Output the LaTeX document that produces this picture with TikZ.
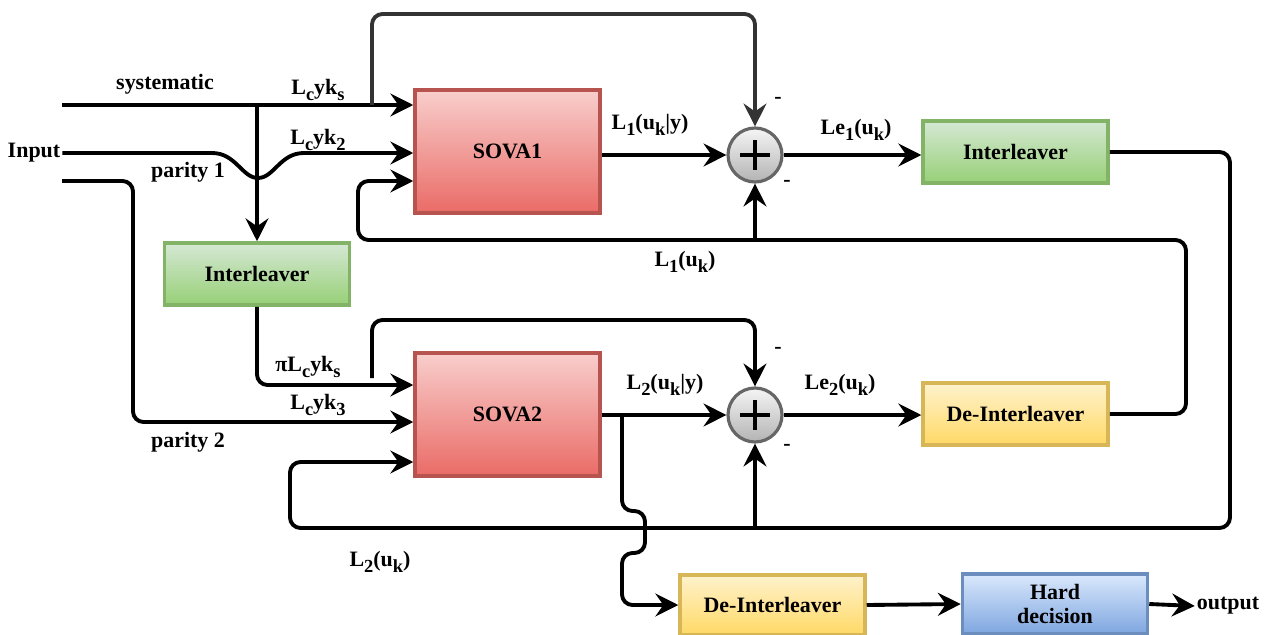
\documentclass[tikz,border=0pt]{standalone}
\usepackage{fontspec}
\setmainfont{Liberation Serif}
\newfontfamily\tnr{Liberation Serif}
\usetikzlibrary{arrows.meta}
\newcommand\lsub[1]{\raisebox{-0.55ex}{\fontsize{10.5}{10.5}\selectfont #1}}
\definecolor{redB}{HTML}{B85450}\definecolor{redT}{HTML}{F8CECC}\definecolor{redL}{HTML}{EA6B66}
\definecolor{grnB}{HTML}{82B366}\definecolor{grnT}{HTML}{D5E8D4}\definecolor{grnL}{HTML}{97D077}
\definecolor{ylwB}{HTML}{D6B656}\definecolor{ylwT}{HTML}{FFF2CC}\definecolor{ylwL}{HTML}{FFD966}
\definecolor{bluB}{HTML}{6C8EBF}\definecolor{bluT}{HTML}{DAE8FC}\definecolor{bluL}{HTML}{7EA6E0}
\definecolor{gryB}{HTML}{666666}\definecolor{gryT}{HTML}{F5F5F5}\definecolor{gryL}{HTML}{B3B3B3}
\definecolor{dline}{HTML}{333333}
\begin{document}
\begin{tikzpicture}[x=0.02cm,y=-0.02cm,
  font=\tnr\fontsize{12.5}{14}\selectfont\bfseries,
  arr/.style={line width=2.2pt,rounded corners=6pt,-{Stealth[length=13pt,width=13pt,inset=4.5pt]}},
  box/.style={draw,line width=2pt,minimum width=3.7cm,align=center,inner sep=1pt},
  sova/.style={box,draw=redB,top color=redT,bottom color=redL,minimum height=2.46cm},
  green/.style={box,draw=grnB,top color=grnT,bottom color=grnL,minimum height=1.24cm},
  yellow/.style={box,draw=ylwB,top color=ylwT,bottom color=ylwL,minimum height=1.24cm},
  blue/.style={box,draw=bluB,top color=bluT,bottom color=bluL,minimum height=1.2cm},
  sum/.style={circle,draw=gryB,line width=1.8pt,top color=gryT,bottom color=gryL,minimum size=1.08cm,inner sep=0pt},
  lbl/.style={inner sep=1pt}]
\fill[white] (0,0) rectangle (1271,635);
\useasboundingbox (0,0) rectangle (1271,635);

% blocks
\node[sova] (sova1) at (507.5,151.5) {SOVA1};
\node[sova] (sova2) at (507.5,414.5) {SOVA2};
\node[green] (il1) at (1015.5,152) {Interleaver};
\node[green] (il2) at (257,274) {Interleaver};
\node[yellow] (dil1) at (1015.5,414) {De-Interleaver};
\node[yellow,minimum height=1.2cm] (dil2) at (772.5,605) {De-Interleaver};
\node[blue] (hd) at (1055,604) {Hard\\decision};
\node[sum] (s1) at (755,155) {};
\node[sum] (s2) at (755,415) {};
\foreach \s in {s1,s2}{
  \draw[line width=2.6pt] (\s.center) ++(-0.3cm,0) -- ++(0.6cm,0);
  \draw[line width=2.6pt] (\s.center) ++(0,-0.3cm) -- ++(0,0.6cm);
}

% inputs
\node[lbl] (inp) at (34,153) {Input};
\node[lbl] (out) at (1228,606) {output};
\coordinate (sysin) at (62,105);
\coordinate (p1in) at (inp.east);
\coordinate (p2in) at (62,181);

% systematic
\draw[arr] (sysin) -- (sysin -| sova1.west);
\draw[arr] (il2.north |- sysin) -- (il2.north);
% parity 1
\draw[arr,sharp corners] (p1in) -- (212,153) .. controls (236,153) and (242,178) .. (258,178)
  .. controls (274,178) and (280,153) .. (304,153) -- (p1in -| sova1.west);
% parity 2
\draw[arr] (p2in) -- (133,181) -- (133,422) -- (sova2.west |- 0,422);

% top feedback to sum1
\draw[arr,draw=dline] (372,105) -- (372,14) -- (755,14) -- (s1.north);
\draw[arr] (sova1.east |- s1.west) -- (s1.west);
\draw[arr] (s1.east) -- (il1.west |- s1.east);

% interleaver 1 -> big loop -> SOVA2
\draw[arr] (il1.east) -- (1230,152) -- (1230,528) -- (290,528) -- (290,462) -- (sova2.west |- 0,462);
\draw[arr] (755,528) -- (s2.south);

% de-interleaver 1 -> loop -> SOVA1
\draw[arr] (dil1.east) -- (1186,414) -- (1186,240) -- (358,240) -- (358,181) -- (sova1.west |- 0,181);
\draw[arr] (755,240) -- (s1.south);

% interleaver 2 -> SOVA2
\draw[arr] (il2.south) -- (257,385) -- (sova2.west |- 0,385);
\draw[arr] (372,378) -- (372,320) -- (755,320) -- (s2.north);
\draw[arr] (sova2.east |- s2.west) -- (s2.west);
\draw[arr] (s2.east) -- (dil1.west |- s2.east);

% branch to output
\draw[arr] (622,415) -- (622,511) -- (645,511) -- (645,553) -- (622,553) -- (622,605) -- (dil2.west);
\draw[arr] (dil2.east) -- (hd.west);
\draw[arr] (hd.east) -- (out.west);

% labels
\node[lbl] at (165,84) {systematic};
\node[lbl] at (318,90) {L\lsub{c}yk\lsub{s}};
\node[lbl] at (318,140) {L\lsub{c}yk\lsub{2}};
\node[lbl] at (188,172) {parity 1};
\node[lbl] at (650,125) {L\lsub{1}(u\lsub{k}|y)};
\node[lbl] at (856,130) {Le\lsub{1}(u\lsub{k})};
\node[lbl] at (685,262) {L\lsub{1}(u\lsub{k})};
\node[lbl] at (778,100) {-};
\node[lbl] at (787,183) {-};
\node[lbl] at (308,367) {πL\lsub{c}yk\lsub{s}};
\node[lbl] at (318,405) {L\lsub{c}yk\lsub{3}};
\node[lbl] at (188,442) {parity 2};
\node[lbl] at (665,385) {L\lsub{2}(u\lsub{k}|y)};
\node[lbl] at (840,385) {Le\lsub{2}(u\lsub{k})};
\node[lbl] at (778,350) {-};
\node[lbl] at (787,447) {-};
\node[lbl] at (380,562) {L\lsub{2}(u\lsub{k})};
\end{tikzpicture}
\end{document}
